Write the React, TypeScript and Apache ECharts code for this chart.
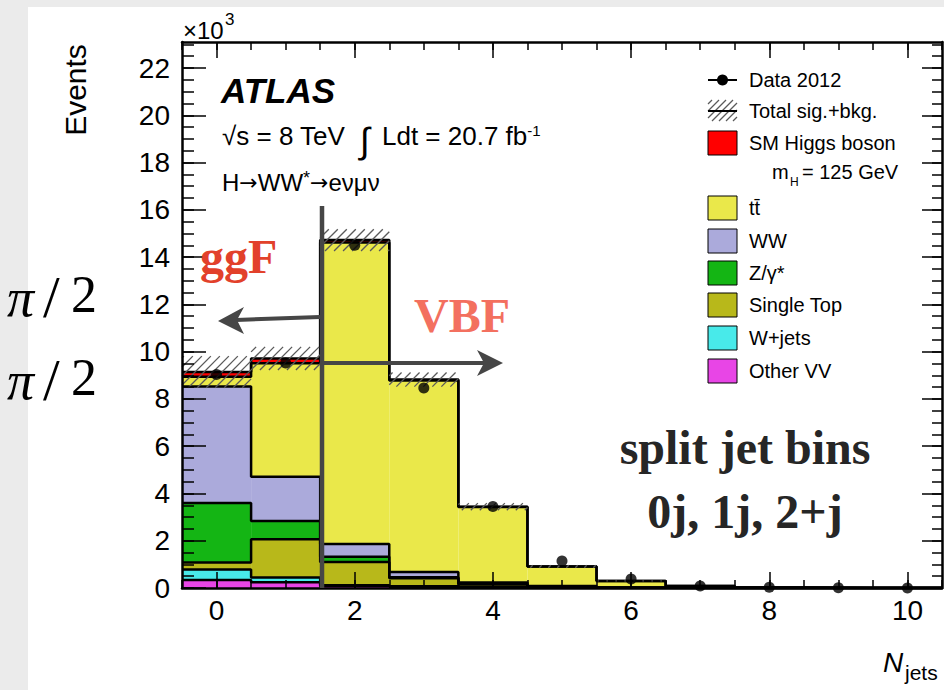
import React, { useEffect, useRef } from "react";
import * as echarts from "echarts";

// ---- data (thousands of events) ----
const bins = [0, 1, 2, 3, 4, 5, 6, 7, 8, 9, 10];
const otherVV = [0.34, 0.24, 0.08, 0.05, 0.02, 0.01, 0, 0, 0, 0, 0];
const wJets = [0.44, 0.2, 0.04, 0.02, 0.01, 0.005, 0, 0, 0, 0, 0];
const singleTop = [0.3, 1.62, 0.98, 0.34, 0.12, 0.04, 0.01, 0, 0, 0, 0];
const zGamma = [2.52, 0.77, 0.22, 0.05, 0.02, 0.01, 0, 0, 0, 0, 0];
const ww = [4.92, 1.88, 0.54, 0.22, 0.06, 0.02, 0.01, 0, 0, 0, 0];
const ttbar = [0.42, 4.8, 12.76, 8.1, 3.2, 0.82, 0.28, 0.08, 0.02, 0.005, 0.001];
const higgs = [0.2, 0.2, 0.1, 0.04, 0.01, 0.005, 0, 0, 0, 0, 0];
const data2012 = [9.03, 9.52, 14.5, 8.46, 3.45, 1.14, 0.38, 0.08, 0.03, 0.01, 0.0];
const totalUnc = [0.67, 0.49, 0.46, 0.3, 0.15, 0.05, 0.02, 0.01, 0, 0, 0];

const layerNames = ["Other VV", "W+jets", "Single Top", "Z/γ*", "WW", "tt\u0304", "SM Higgs boson"];
const layerColors = ["#e845e6", "#48eaea", "#b8b81a", "#14b514", "#abaadb", "#eae84a", "#ff0000"];

const xMajorTicks = [0, 2, 4, 6, 8, 10];
const yMajorTicks = [0, 2, 4, 6, 8, 10, 12, 14, 16, 18, 20, 22];

const X_MIN = -0.5;
const X_MAX = 10.5;
const Y_MIN = 0;
const Y_MAX = 23.1;

const SANS = '"Liberation Sans", Arial, sans-serif';
const SERIF = '"Liberation Serif", "Times New Roman", serif';

function steps(a: number, b: number, step: number) {
  const out: number[] = [];
  for (let v = a; v <= b + 1e-9; v += step) out.push(Math.round(v * 100) / 100);
  return out;
}

function hatchLines(x0: number, yTop: number, x1: number, yBot: number, s: number, stroke: string, lw: number) {
  const out: any[] = [];
  const kStart = Math.ceil((x0 + yTop) / s) * s;
  for (let k = kStart; k <= x1 + yBot; k += s) {
    const xa = Math.max(x0, k - yBot);
    const xb = Math.min(x1, k - yTop);
    if (xb - xa > 0.5) {
      out.push({ type: "line", shape: { x1: xa, y1: k - xa, x2: xb, y2: k - xb }, style: { stroke, lineWidth: lw } });
    }
  }
  return out;
}

export default function App() {
  const ref = useRef<HTMLDivElement>(null);
  useEffect(() => {
    const chart = echarts.init(ref.current!, null, { renderer: "svg" });
    const layers = [otherVV, wJets, singleTop, zGamma, ww, ttbar, higgs];
    const cum: number[][] = [];
    layers.forEach((arr, l) => {
      cum.push(bins.map((_, i) => (l === 0 ? 0 : cum[l - 1][i]) + arr[i]));
    });
    const total = cum[cum.length - 1];

    const fillSeries = layers.map((arr, l) => ({
      type: "custom",
      name: layerNames[l],
      z: 2,
      silent: true,
      xAxisIndex: 0,
      yAxisIndex: 0,
      encode: { x: 0, y: [1, 2] },
      data: bins.map((b, i) => [b, l === 0 ? 0 : cum[l - 1][i], cum[l][i]]),
      renderItem: (params: any, api: any) => {
        const x = api.value(0);
        const p0 = api.coord([x - 0.5, api.value(2)]);
        const p1 = api.coord([x + 0.5, api.value(1)]);
        return {
          type: "rect",
          shape: { x: p0[0], y: p0[1], width: p1[0] - p0[0], height: p1[1] - p0[1] },
          style: { fill: layerColors[l] },
        };
      },
    }));

    const outlineSeries = cum.map((c) => {
      const pts: number[][] = [];
      bins.forEach((b, i) => {
        pts.push([b - 0.5, c[i]]);
        pts.push([b + 0.5, c[i]]);
      });
      return {
        type: "line",
        z: 4,
        silent: true,
        symbol: "none",
        xAxisIndex: 0,
        yAxisIndex: 0,
        lineStyle: { color: "#000", width: 2.5 },
        data: pts,
      };
    });

    const hatchSeries = {
      type: "custom",
      z: 5,
      silent: true,
      xAxisIndex: 0,
      yAxisIndex: 0,
      encode: { x: 0, y: [1, 2] },
      data: bins.map((b, i) => [b, total[i] - totalUnc[i], total[i] + totalUnc[i]]),
      renderItem: (params: any, api: any) => {
        const x = api.value(0);
        const p0 = api.coord([x - 0.5, api.value(2)]);
        const p1 = api.coord([x + 0.5, api.value(1)]);
        return { type: "group", children: hatchLines(p0[0], p0[1], p1[0], p1[1], 9, "#5a5a5a", 1.3) };
      },
    };

    const dataSeries = {
      type: "scatter",
      z: 20,
      silent: true,
      xAxisIndex: 0,
      yAxisIndex: 0,
      symbol: "circle",
      symbolSize: 11,
      itemStyle: { color: "#000" },
      data: bins.map((b, i) => [b, data2012[i]]),
    };

    const xMinor = steps(X_MIN, X_MAX, 0.5);
    const yMinor = steps(Y_MIN, 23, 0.5);
    const frameLine = { show: true, onZero: false, lineStyle: { color: "#000", width: 2.5 } };
    const noLine = { show: false, onZero: false };
    const tickStyle = { color: "#000", width: 1.5 };
    const mkX = (position: string, major: boolean, labels: boolean) => ({
      type: "value",
      min: X_MIN,
      max: X_MAX,
      position,
      z: 10,
      splitLine: { show: false },
      axisLine: major ? frameLine : noLine,
      axisTick: { show: true, inside: true, length: major ? 16 : 8, customValues: major ? xMajorTicks : xMinor, lineStyle: tickStyle },
      axisLabel: labels
        ? { show: true, customValues: xMajorTicks, fontSize: 28, fontFamily: SANS, color: "#000", margin: 8 }
        : { show: false },
    });
    const mkY = (position: string, major: boolean, labels: boolean, len: number) => ({
      type: "value",
      min: Y_MIN,
      max: Y_MAX,
      position,
      z: 10,
      splitLine: { show: false },
      axisLine: major ? frameLine : noLine,
      axisTick: { show: true, inside: true, length: len, customValues: major ? yMajorTicks : yMinor, lineStyle: tickStyle },
      axisLabel: labels
        ? { show: true, customValues: yMajorTicks, fontSize: 28, fontFamily: SANS, color: "#000", margin: 12 }
        : { show: false },
    });

    // ---- legend / annotations (graphic) ----
    const g: any[] = [];
    g.push({ type: "rect", z: 0, shape: { x: 0, y: 0, width: 28, height: 690 }, style: { fill: "#ebebeb" } });
    g.push({ type: "rect", z: 0, shape: { x: 0, y: 0, width: 944, height: 7 }, style: { fill: "#ebebeb" } });

    const txt = (text: string, x: number, y: number, font: string, fill = "#000", align = "left", extra: any = {}) => ({
      type: "text",
      x,
      y,
      z: 60,
      ...extra,
      style: { text, font, fill, textAlign: align, align, textVerticalAlign: "middle", verticalAlign: "middle" },
    });

    // pi/2 labels
    [294, 377].forEach((cy) => {
      g.push(txt("π", 7, cy + 4, `italic 54px ${SERIF}`));
      g.push(txt("/", 43, cy + 3, `60px ${SERIF}`));
      g.push(txt("2", 71, cy, `52px ${SERIF}`));
    });

    g.push(txt("Events", 75, 90, `30px ${SANS}`, "#000", "center", { rotation: Math.PI / 2 }));
    g.push(txt("×10", 183, 30, `24px ${SANS}`));
    g.push(txt("3", 225, 19, `17px ${SANS}`));

    g.push(txt("ATLAS", 221, 90, `bold italic 35px ${SANS}`));
    g.push(txt("√s = 8 TeV", 222, 136, `26px ${SANS}`));
    g.push(txt("∫", 360, 140, `36px ${SANS}`));
    g.push({
      type: "text",
      x: 382,
      y: 136,
      z: 60,
      style: {
        text: "{a|Ldt = 20.7 fb}{s|-1}",
        verticalAlign: "middle",
        textVerticalAlign: "middle",
        rich: {
          a: { fontFamily: '"Liberation Sans"', fontSize: 26, fill: "#000", color: "#000" },
          s: { fontFamily: '"Liberation Sans"', fontSize: 15, fill: "#000", color: "#000", verticalAlign: "top", padding: [0, 0, 10, 0] },
        },
      },
    });
    g.push({
      type: "text",
      x: 222,
      y: 182,
      z: 60,
      style: {
        text: "{a|H}{b|→}{a|WW}{s|*}{b|→}{a|eνμν}",
        verticalAlign: "middle",
        textVerticalAlign: "middle",
        rich: {
          a: { fontFamily: '"Liberation Sans"', fontSize: 24, fill: "#000", color: "#000" },
          b: { fontFamily: '"DejaVu Sans"', fontSize: 22, fill: "#000", color: "#000" },
          s: { fontFamily: '"Liberation Sans"', fontSize: 18, fill: "#000", color: "#000", verticalAlign: "top", padding: [0, 0, 8, 0] },
        },
      },
    });

    g.push(txt("N", 883, 662, `italic 28px ${SANS}`));
    g.push(txt("jets", 905, 672, `21px ${SANS}`));

    // legend
    const LX = 708, LW = 29, TX = 749;
    const lfont = `20px ${SANS}`;
    g.push({ type: "line", z: 60, shape: { x1: LX, y1: 80, x2: LX + LW, y2: 80 }, style: { stroke: "#000", lineWidth: 2 } });
    g.push({ type: "circle", z: 61, shape: { cx: LX + LW / 2, cy: 80, r: 5.5 }, style: { fill: "#000" } });
    g.push(txt("Data 2012", TX, 80, lfont));
    hatchLines(LX, 100, LX + LW, 121, 7, "#5a5a5a", 1.2).forEach((l) => g.push({ ...l, z: 60 }));
    g.push({ type: "line", z: 61, shape: { x1: LX, y1: 111, x2: LX + LW, y2: 111 }, style: { stroke: "#000", lineWidth: 2 } });
    g.push(txt("Total sig.+bkg.", TX, 111, lfont));
    const rowY = [371, 338, 305, 273, 241, 208, 143];
    layerNames.forEach((name, l) => {
      const y = rowY[l];
      g.push({ type: "rect", z: 60, shape: { x: LX, y: y - 12, width: LW, height: 24 }, style: { fill: layerColors[l], stroke: "#000", lineWidth: 1 } });
      g.push(txt(name, TX, y, lfont));
    });
    g.push(txt("m", 772, 172, lfont));
    g.push(txt("H", 790, 182, `12px ${SANS}`));
    g.push(txt("= 125 GeV", 802, 172, lfont));

    // ggF / VBF annotation
    const arrowC = "#464646";
    g.push({ type: "line", z: 50, shape: { x1: 322, y1: 206, x2: 322, y2: 588 }, style: { stroke: arrowC, lineWidth: 4.5 } });
    g.push({ type: "line", z: 50, shape: { x1: 320, y1: 317, x2: 236, y2: 320 }, style: { stroke: arrowC, lineWidth: 4 } });
    g.push({ type: "polygon", z: 50, shape: { points: [[218, 321], [244, 307], [237, 320], [244, 334]] }, style: { fill: arrowC } });
    g.push({ type: "line", z: 50, shape: { x1: 322, y1: 363, x2: 486, y2: 363 }, style: { stroke: arrowC, lineWidth: 4 } });
    g.push({ type: "polygon", z: 50, shape: { points: [[503, 363], [477, 350], [484, 363], [477, 376]] }, style: { fill: arrowC } });
    g.push(txt("ggF", 200, 256, `bold 48px ${SERIF}`, "#e2412b"));
    g.push(txt("VBF", 414, 315, `bold 48px ${SERIF}`, "#f3705f"));
    g.push(txt("split jet bins", 745, 447, `bold 48px ${SERIF}`, "#262626", "center"));
    g.push(txt("0j, 1j, 2+j", 745, 511, `bold 48px ${SERIF}`, "#262626", "center"));

    const option: any = {
      animation: false,
      backgroundColor: "#ffffff",
      grid: { left: 182, top: 42, right: 2, bottom: 102, outerBoundsMode: "none", containLabel: false },
      xAxis: [mkX("bottom", true, true), mkX("bottom", false, false), mkX("top", true, false), mkX("top", false, false)],
      yAxis: [mkY("left", true, true, 24), mkY("left", false, false, 12), mkY("right", true, false, 20), mkY("right", false, false, 10)],
      series: [...fillSeries, ...outlineSeries, hatchSeries, dataSeries],
      graphic: { elements: g },
    };
    chart.setOption(option);
    return () => chart.dispose();
  }, []);
  return <div ref={ref} style={{ position: "fixed", left: 0, top: 0, width: 944, height: 690 }} />;
}
